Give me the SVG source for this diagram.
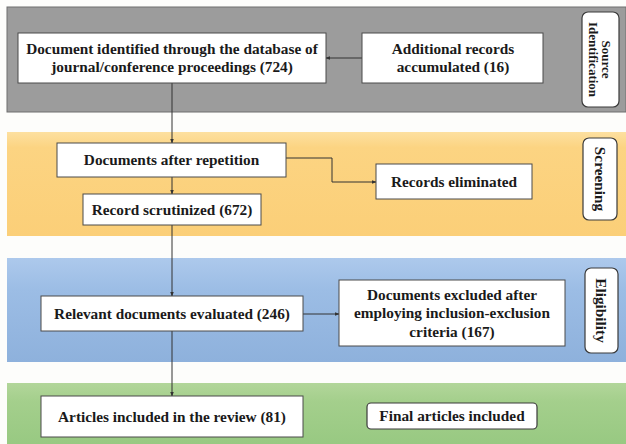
<svg xmlns="http://www.w3.org/2000/svg" width="626" height="444" viewBox="0 0 626 444">
<defs>
<style>
.box{fill:#ffffff;stroke:#4a4a4a;stroke-width:1}
.lab{fill:#ffffff;stroke:#3a3a3a;stroke-width:1.2}
.t{font-family:"Liberation Serif","Times New Roman",serif;font-weight:bold;font-size:15.3px;fill:#1a1a1a;text-anchor:middle}
.s{font-family:"Liberation Serif","Times New Roman",serif;font-weight:bold;font-size:15.3px;fill:#1a1a1a;text-anchor:middle;dominant-baseline:central}
.c{fill:none;stroke:#333333;stroke-width:1}
</style>
<linearGradient id="gO" x1="0" y1="0" x2="0" y2="1"><stop offset="0" stop-color="#fde0a0"/><stop offset="0.15" stop-color="#fcd482"/><stop offset="1" stop-color="#fbcf78"/></linearGradient>
<linearGradient id="gB" x1="0" y1="0" x2="0" y2="1"><stop offset="0" stop-color="#adc9ec"/><stop offset="0.3" stop-color="#9cbde5"/><stop offset="1" stop-color="#8eb1dc"/></linearGradient>
<linearGradient id="gG" x1="0" y1="0" x2="0" y2="1"><stop offset="0" stop-color="#b2d69a"/><stop offset="0.3" stop-color="#a4cf8c"/><stop offset="1" stop-color="#98c982"/></linearGradient>
<marker id="ah" viewBox="0 0 8 8" refX="7" refY="4" markerWidth="5" markerHeight="5" orient="auto" markerUnits="userSpaceOnUse"><path d="M0,1 L8,4 L0,7 Z" fill="#333333"/></marker>
</defs>
<rect width="626" height="444" fill="#fdfdfb"/>
<g id="bands">
<rect x="7" y="7" width="619" height="105" fill="#9c9c9c" stroke="#6e6e6e" stroke-width="1"/>
<rect x="7" y="132" width="619" height="104" fill="url(#gO)"/>
<rect x="7" y="258" width="619" height="104" fill="url(#gB)"/>
<rect x="7" y="383" width="619" height="61" fill="url(#gG)"/>
</g>
<g id="connectors">
<line class="c" x1="172" y1="83" x2="172" y2="143" marker-end="url(#ah)"/>
<line class="c" x1="362" y1="58" x2="326" y2="58" marker-end="url(#ah)"/>
<line class="c" x1="172" y1="177" x2="172" y2="194" marker-end="url(#ah)"/>
<polyline class="c" points="286,158 332,158 332,182 376,182" stroke="#6a5020" marker-end="url(#ah)"/>
<line class="c" x1="172" y1="225" x2="172" y2="296" marker-end="url(#ah)"/>
<line class="c" x1="303" y1="314" x2="339" y2="314" marker-end="url(#ah)"/>
<line class="c" x1="172" y1="331" x2="172" y2="396" marker-end="url(#ah)"/>
</g>
<g id="n1">
<rect class="box" x="18" y="33" width="308" height="50"/>
<text class="t" x="172" y="54">Document identified through the database of</text>
<text class="t" x="172" y="72">journal/conference proceedings (724)</text>
</g>
<g id="n2">
<rect class="box" x="362" y="33" width="181" height="50"/>
<text class="t" x="453" y="54">Additional records</text>
<text class="t" x="453" y="72">accumulated (16)</text>
</g>
<g id="lab1">
<rect class="lab" x="582" y="12" width="37" height="95" rx="6"/>
<g transform="translate(600,59.5) rotate(90)">
<text class="s" x="0" y="-6" style="font-size:13px">Source</text>
<text class="s" x="0" y="7" style="font-size:13px">Identification</text>
</g>
</g>
<g id="n3">
<rect class="box" x="57" y="143" width="229" height="34"/>
<text class="t" x="171.5" y="165">Documents after repetition</text>
</g>
<g id="n4">
<rect class="box" x="83" y="194" width="178" height="31"/>
<text class="t" x="172" y="214.5">Record scrutinized (672)</text>
</g>
<g id="n5">
<rect class="box" x="376" y="164" width="156" height="35"/>
<text class="t" x="454" y="186.5">Records eliminated</text>
</g>
<g id="lab2">
<rect class="lab" x="583" y="138" width="34" height="82" rx="6"/>
<g transform="translate(600,179) rotate(90)">
<text class="s" x="0" y="0">Screening</text>
</g>
</g>
<g id="n6">
<rect class="box" x="41" y="296" width="262" height="35"/>
<text class="t" x="172" y="318.5">Relevant documents evaluated (246)</text>
</g>
<g id="n7">
<rect class="box" x="339" y="280" width="226" height="66"/>
<text class="t" x="452" y="300">Documents excluded after</text>
<text class="t" x="452" y="318">employing inclusion-exclusion</text>
<text class="t" x="452" y="337">criteria (167)</text>
</g>
<g id="lab3">
<rect class="lab" x="585" y="268" width="33" height="85" rx="6"/>
<g transform="translate(601.5,310.5) rotate(90)">
<text class="s" x="0" y="0">Eligibility</text>
</g>
</g>
<g id="n8">
<rect class="box" x="41" y="396" width="262" height="41"/>
<text class="t" x="172" y="421.5">Articles included in the review (81)</text>
</g>
<g id="n9">
<rect class="lab" x="367" y="403" width="170" height="26" rx="4"/>
<text class="t" x="452" y="421">Final articles included</text>
</g>
</svg>
